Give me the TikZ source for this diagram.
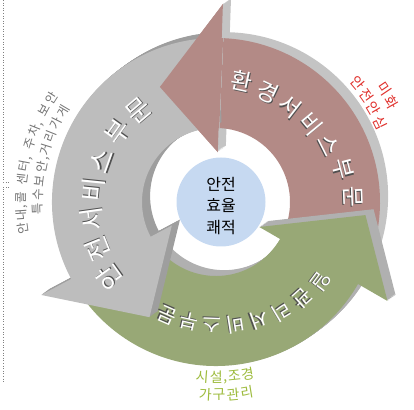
\documentclass[tikz,border=0pt]{standalone}
\usepackage{fontspec}
\setmainfont{Noto Sans CJK KR}
\definecolor{brownface}{HTML}{B38A86}
\definecolor{brownside}{HTML}{C4C4C4}
\definecolor{grayface}{HTML}{BDBDBD}
\definecolor{grayside}{HTML}{9E9E9E}
\definecolor{greenface}{HTML}{98A876}
\definecolor{greenside}{HTML}{B0B0B0}
\definecolor{corefill}{HTML}{C6D9F1}
\definecolor{leftgray}{HTML}{737373}
\definecolor{redtext}{HTML}{E0302C}
\definecolor{greentext}{HTML}{9DBB3D}
\definecolor{shadowc}{HTML}{505050}
\newcommand{\ringin}{74}
\newcommand{\ringout}{164}
\newcommand{\headin}{50}
\newcommand{\headout}{198}
\newcommand{\kcomma}{,}
\newcommand{\arrowpath}[4]{(#1:\ringin) arc[start angle=#1, end angle=#2, radius=\ringin] -- (#2:\headin) -- (#3:#4) -- (#2:\headout) -- (#2:\ringout) arc[start angle=#2, end angle=#1, radius=\ringout] -- cycle}
\newcommand{\solidarrow}[6]{%
  \foreach \kk in {9,8,...,1}{%
    \begin{scope}[shift={(0.9*\kk,0.65*\kk)}]
      \fill[#2] \arrowpath{#3}{#4}{#5}{#6};
    \end{scope}}%
  \fill[#1] \arrowpath{#3}{#4}{#5}{#6};}
\newcommand{\embos}[1]{\makebox[0pt][l]{\kern1pt\raisebox{-1pt}{\textcolor{shadowc}{#1}}}\textcolor{white}{#1}}
% #1 name prefix, #2 style, #3 rotation offset, #4 list angle/radius/char
\newcommand{\arcchars}[4]{%
  \foreach \ka/\kr/\kch [count=\i] in {#4}
    \node[#2, rotate=\ka+#3] (#1\i) at (\ka:\kr) {\kch};}
\begin{document}
\begin{tikzpicture}[x=1pt,y=1pt,
  lblb/.style={inner sep=0pt, font=\fontsize{23}{23}\selectfont},
  lblg/.style={inner sep=0pt, font=\fontsize{26}{26}\selectfont},
  lbln/.style={inner sep=0pt, font=\fontsize{20}{20}\selectfont},
  notegray/.style={inner sep=0pt, text=leftgray, font=\fontsize{12.5}{12.5}\selectfont},
  notered/.style={inner sep=0pt, text=redtext, font=\fontsize{14}{14}\selectfont},
  notegreen/.style={inner sep=0pt, text=greentext, font=\fontsize{14}{14}\selectfont},
  framedots/.style={dotted, line width=0.6pt, gray}]
\useasboundingbox (0,0) rectangle (414,409);
\draw[framedots] (3,409) -- (3,227) -- (9,227);
\draw[framedots] (9,222) -- (3,222) -- (3,26);
\begin{scope}[shift={(216,207)}]
  % arrows
  \solidarrow{brownface}{brownside}{-30}{88}{116}{128}
  \solidarrow{greenface}{greenside}{212}{330}{355}{150}
  \solidarrow{grayface}{grayside}{92}{208}{240}{133}
  \begin{scope}
    \clip (0,0) -- (87.5:320) arc[start angle=87.5, end angle=200, radius=320] -- cycle;
    \solidarrow{brownface}{brownside}{-30}{88}{116}{128}
  \end{scope}
  % centre
  \node[circle, fill=corefill, minimum size=89pt, inner sep=0pt] (core) at (5,0) {};
  \node[align=center, inner sep=0pt, font=\fontsize{16}{21.5}\selectfont] (coretxt) at ([yshift=-4pt]core.center) {안전\\효율\\쾌적};
  % arrow labels
  \foreach \ka/\kr/\kch [count=\i] in {77.8/123/환, 64.7/121/경, 52.3/120/서, 39.6/122/비, 26.8/126/스, 14.5/131/부, 2.1/137/문}
    \node[lblb, rotate=\ka-90] (envtxt\i) at (\ka:\kr) {\embos{\kch}};
  \foreach \ka/\kr/\kch [count=\i] in {215.6/130/안, 201.8/127/전, 188/125/서, 174.2/123/비, 160.4/121/스, 144.5/120/부, 130.3/120/문}
    \node[lblg, rotate=\ka-90] (saftxt\i) at (\ka:\kr) {\embos{\kch}};
  \foreach \ka/\kr/\kch [count=\i] in {-37/131/일, -48/129/관, -59/127/리, -70/125/서, -81/123/비, -92/122/스, -103/122/부, -113.5/123/문}
    \node[lbln, rotate=\ka-90] (mgttxt\i) at (\ka:\kr) {\embos{\kch}};
  % outside notes (tops outward)
  \arcchars{lefta}{notegray}{-90}{187.9/195/안, 183.8/195/내, 181.3/190/\kcomma, 178.6/195/콜, 173.4/195/센, 169.3/195/터, 166.8/190/\kcomma, 162.6/195/주, 158.5/195/차, 156.0/190/\kcomma, 151.8/195/보, 147.7/195/안}
  \arcchars{leftb}{notegray}{-90}{182.2/178/특, 177.7/178/수, 173.2/178/보, 168.7/178/안, 165.75/173.5/\kcomma, 162.8/178/거, 158.3/178/리, 153.8/178/가, 149.3/178/게}
  \arcchars{reda}{notered}{-90}{40.2/185/안, 35.2/184/전, 30.7/183.5/안, 25.9/182/심}
  \arcchars{redb}{notered}{-90}{34.0/203/미, 29.6/201/화}
  % outside notes (tops inward)
  \arcchars{greena}{notegreen}{90}{-94.5/175/시, -89.9/175/설, -87/180/\kcomma, -84.05/175/조, -79.5/175/경}
  \arcchars{greenb}{notegreen}{90}{-93.2/193/가, -89.1/193/구, -84.9/193/관, -80.8/193/리}
\end{scope}
\end{tikzpicture}
\end{document}
